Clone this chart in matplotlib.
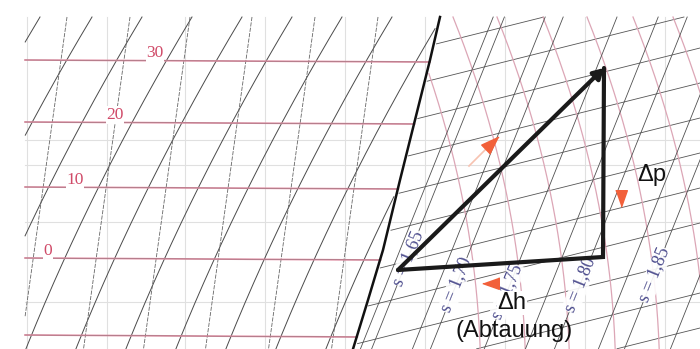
import matplotlib
matplotlib.use('Agg')
import matplotlib.pyplot as plt
import numpy as np

# diagram units = picture pixels, y grows downward
x_left, x_right, y_top, y_bot = 25, 700, 17, 349

# light grid
grid_x = [27, 107, 185, 265, 345, 425, 505, 585, 665]
grid_y = [140, 165, 222, 302]

# saturated liquid line
sat_x = [440, 430, 415, 400, 383, 368, 353]
sat_y = [17, 60, 120, 180, 250, 300, 349]

# red isotherm (pressure) lines in the liquid region with their labels
iso_y = [60, 122, 187, 258, 335]
iso_lab = ['30', '20', '10', '0']
iso_lab_x = [155, 115, 75, 48]

# liquid region lines: solid curved ones and dashed steep ones (x at top edge)
liq_solid_x0 = [40, 92, 142, 192, 242, 292, 342, 392, 442, 492, 542]
liq_dash_x0 = [67, 130, 190, 252, 315, 378, 440, 500]

# right region: gently rising lines (y at x=440), pink curves (x at top), isentropes
rise_y0 = [43, 78, 113, 148, 183, 218, 253, 288, 323, 358, 393, 428]
pink_x0 = [408, 453, 497, 543, 587, 633, 673, 713, 753]
s_lab = ['s = 1,65', 's = 1,70', 's = 1,75', 's = 1,80', 's = 1,85']
s_x = [408, 456, 507, 580, 654]
s_y = [258, 285, 292, 285, 275]
extra_s_x = [380, 432, 545, 618, 690]
extra_s_y = [300, 300, 300, 300, 300]

# process triangle
tri_x = [398, 604, 603]
tri_y = [270, 68, 257]

# orange direction markers: x, y, direction angle (deg, screen, ccw from +x)
arr_x = [491, 621, 492]
arr_y = [144, 197, 283]
arr_ang = [44, -90, 180]

fig = plt.figure(figsize=(7, 3.49), dpi=100)
ax = fig.add_axes([0, 0, 1, 1])
ax.set_xlim(0, 700)
ax.set_ylim(349, 0)
ax.axis('off')

ys = np.linspace(y_top, y_bot, 400)
sat_at = np.interp(ys, sat_y, sat_x)

for gx in grid_x:
    ax.plot([gx, gx], [y_top, y_bot], color='#e0e0e0', lw=0.8, zorder=0)
for gy in grid_y:
    ax.plot([x_left, x_right], [gy, gy], color='#e0e0e0', lw=0.8, zorder=0)


def left_only(x):
    return np.where((x < sat_at - 2) & (x > x_left), x, np.nan)


def right_only(x):
    return np.where(x > sat_at + 2, x, np.nan)


for x0 in liq_solid_x0:
    x = x0 - (0.6 * (ys - y_top) - 0.0003 * (ys - y_top) ** 2)
    ax.plot(left_only(x), ys, color='#4a4a4a', lw=0.7, zorder=1)
for x0 in liq_dash_x0:
    x = x0 - 0.14 * (ys - y_top)
    ax.plot(left_only(x), ys, color='#666666', lw=0.6, ls=(0, (5, 1.5)), zorder=1)

# red isotherms end at the saturated liquid line
for i, yy in enumerate(iso_y):
    xe = np.interp(yy, sat_y, sat_x)
    ax.plot([x_left, xe], [yy, yy + 2], color='#e08aa0', lw=1.2, zorder=1.5)
    ax.plot([x_left, xe], [yy, yy + 2], color='#666666', lw=0.4, alpha=0.6, zorder=1.6)
    if i < len(iso_lab):
        ax.text(iso_lab_x[i], yy + 1, iso_lab[i], color='#d04a68', fontsize=12.5,
                family='Liberation Serif', ha='center', va='bottom', zorder=3,
                bbox=dict(fc='white', ec='none', pad=0.5))

# right region
xs = np.linspace(300, x_right, 300)
for y0 in rise_y0:
    y = y0 - 0.25 * (xs - 440)
    ok = (xs > np.interp(y, sat_y, sat_x) + 2) & (y > y_top) & (y < y_bot)
    ax.plot(np.where(ok, xs, np.nan), y, color='#555555', lw=0.6, zorder=1)
for x0 in pink_x0:
    x = x0 + 0.4 * (ys - y_top) - 0.00055 * (ys - y_top) ** 2
    ax.plot(right_only(x), ys, color='#dca6b6', lw=0.9, zorder=1)
for xl, yl in zip(s_x + extra_s_x, s_y + extra_s_y):
    x = xl + 0.4 * (yl - ys)
    ax.plot(right_only(x), ys, color='#505050', lw=0.6, zorder=1)

ax.plot(sat_x, sat_y, color='#111111', lw=1.8, zorder=2)

for lab, lx, ly in zip(s_lab, s_x, s_y):
    ax.text(lx, ly, lab, rotation=68, rotation_mode='anchor', color='#4b4b8c',
            fontsize=13, family='Liberation Serif', ha='center', va='center',
            zorder=3, bbox=dict(fc='white', ec='none', pad=0.3, alpha=0.9))

# triangle
ax.plot([tri_x[1], tri_x[2], tri_x[0]], [tri_y[1], tri_y[2], tri_y[0]],
        color='#1a1a1a', lw=3, solid_capstyle='round', solid_joinstyle='miter', zorder=4)
ax.annotate('', xy=(tri_x[1], tri_y[1]), xytext=(tri_x[0], tri_y[0]),
            arrowprops=dict(arrowstyle='-|>,head_length=0.6,head_width=0.35',
                            color='#1a1a1a', lw=3, shrinkA=0, shrinkB=0), zorder=4)

# orange heads
for ax_, ay_, ang in zip(arr_x, arr_y, arr_ang):
    t = np.deg2rad(ang)
    base = np.array([[1.0, 0.0], [-0.7, 0.6], [-0.7, -0.6]])
    rot = np.array([[np.cos(t), -np.sin(t)], [np.sin(t), np.cos(t)]])
    ax.plot(ax_, ay_, marker=base @ rot.T, markersize=14, color='#f2603a',
            mec='#f2603a', zorder=5)
ax.plot([arr_x[0] - 22, arr_x[0] - 6], [arr_y[0] + 22, arr_y[0] + 6],
        color='#f7c2b0', lw=1.2, zorder=4.5)

ax.text(637, 175, 'Δp', fontsize=17, family='Liberation Sans', ha='left',
        va='center', color='#111111', zorder=5)
ax.text(512, 303, 'Δh', fontsize=17, family='Liberation Sans', ha='center',
        va='center', color='#111111', zorder=5,
        bbox=dict(fc='white', ec='none', pad=0.5))
ax.text(514, 331, '(Abtauung)', fontsize=17, family='Liberation Sans', ha='center',
        va='center', color='#111111', zorder=5)

fig.savefig('out.png', dpi=100)
